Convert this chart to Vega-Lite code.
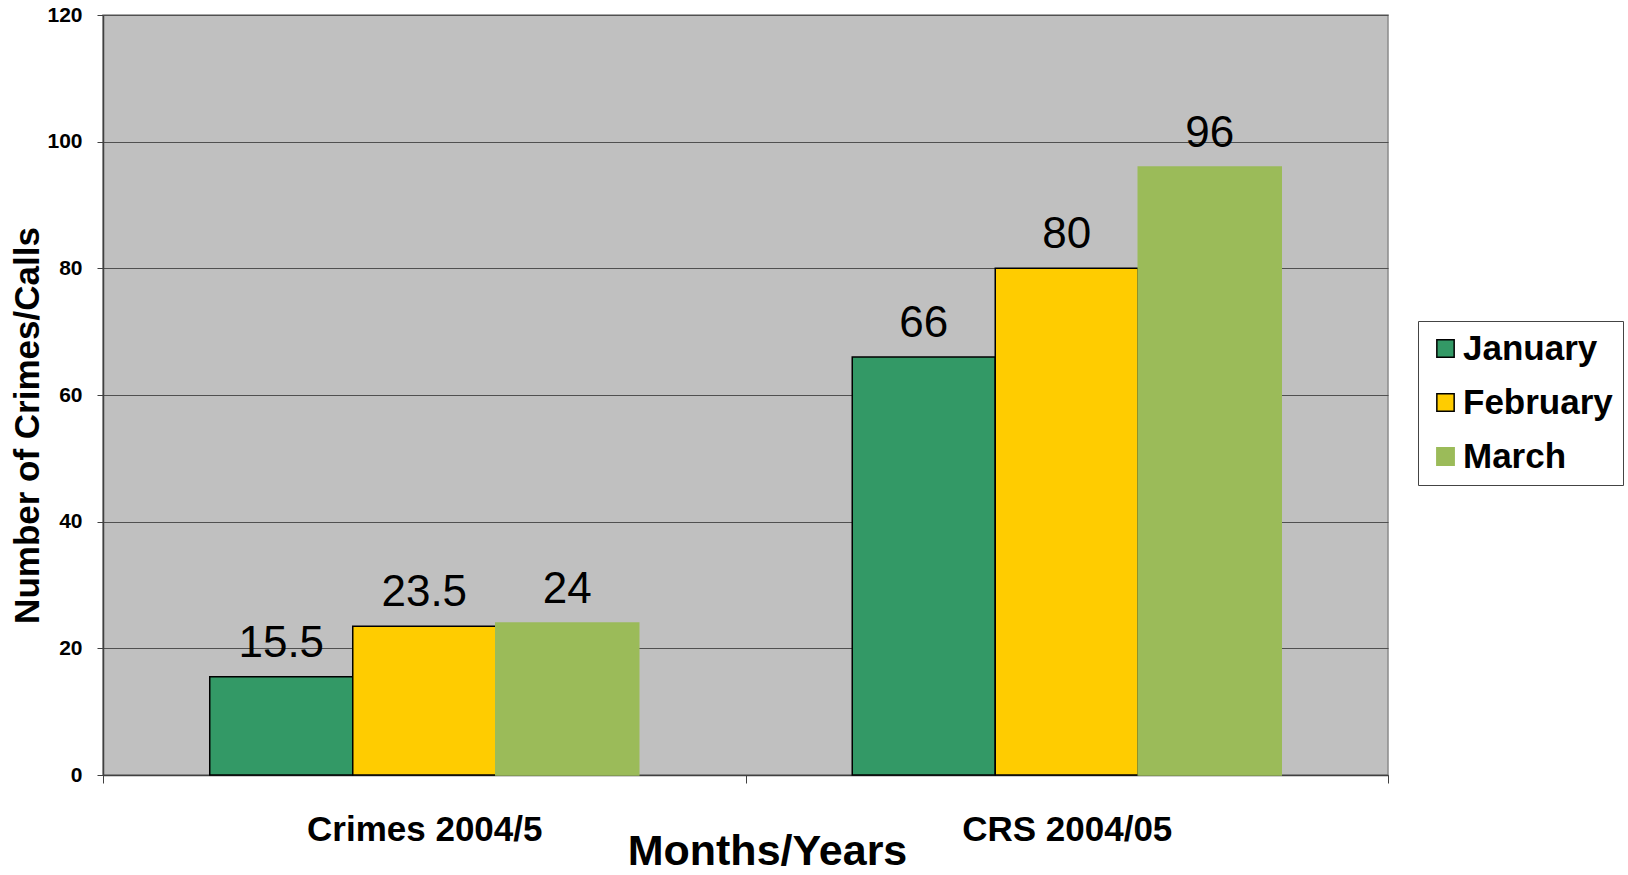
{
  "$schema": "https://vega.github.io/schema/vega-lite/v6.json",
  "autosize": "none",
  "width": 1285,
  "height": 760,
  "padding": {"left": 103, "top": 15, "right": 240, "bottom": 100},
  "background": "white",
  "config": {
    "view": {"fill": "#C0C0C0", "stroke": "#8A8A8A", "strokeWidth": 1.5},
    "font": "Liberation Sans"
  },
  "data": {
    "values": [
      {"group": "Crimes 2004/5", "month": "January", "value": 15.5},
      {"group": "Crimes 2004/5", "month": "February", "value": 23.5},
      {"group": "Crimes 2004/5", "month": "March", "value": 24},
      {"group": "CRS 2004/05", "month": "January", "value": 66},
      {"group": "CRS 2004/05", "month": "February", "value": 80},
      {"group": "CRS 2004/05", "month": "March", "value": 96}
    ]
  },
  "encoding": {
    "x": {
      "field": "group",
      "type": "nominal",
      "sort": ["Crimes 2004/5", "CRS 2004/05"],
      "scale": {"paddingInner": 0, "paddingOuter": 0},
      "axis": {
        "title": "Months/Years",
        "titleFont": "Liberation Sans",
        "titleFontSize": 43,
        "titleFontWeight": "bold",
        "titleColor": "black",
        "titleX": 664,
        "titleY": 89,
        "titleBaseline": "alphabetic",
        "titleAlign": "center",
        "labelFont": "Liberation Sans",
        "labelFontSize": 35,
        "labelFontWeight": "bold",
        "labelColor": "black",
        "labelAngle": 0,
        "labelLimit": 600,
        "labelBaseline": "alphabetic",
        "labelPadding": 57,
        "tickBand": "extent",
        "tickSize": 8,
        "tickColor": "#404040",
        "domainColor": "#404040",
        "domainWidth": 1.5
      }
    },
    "xOffset": {
      "field": "month",
      "type": "nominal",
      "sort": ["January", "February", "March"],
      "scale": {"paddingInner": 0, "paddingOuter": 0.7465}
    },
    "y": {
      "field": "value",
      "type": "quantitative",
      "scale": {"domain": [0, 120], "nice": false},
      "axis": {
        "values": [0, 20, 40, 60, 80, 100, 120],
        "title": "Number of Crimes/Calls",
        "titleFont": "Liberation Sans",
        "titleFontSize": 35,
        "titleFontWeight": "bold",
        "titleColor": "black",
        "titleAngle": -90,
        "titleX": -65,
        "titleY": 410,
        "titleBaseline": "alphabetic",
        "titleAlign": "center",
        "labelFont": "Liberation Sans",
        "labelFontSize": 21,
        "labelFontWeight": "bold",
        "labelColor": "black",
        "labelPadding": 15,
        "tickSize": 6,
        "tickColor": "#404040",
        "domainColor": "#404040",
        "domainWidth": 1.5,
        "grid": true,
        "gridColor": "#505050",
        "gridWidth": 1.2
      }
    }
  },
  "layer": [
    {
      "mark": {"type": "bar", "strokeWidth": 1.5},
      "encoding": {
        "fill": {
          "field": "month",
          "type": "nominal",
          "scale": {"domain": ["January", "February", "March"], "range": ["#339966", "#FFCC00", "#9BBB59"]},
          "legend": {
            "title": null,
            "orient": "none",
            "legendX": 1315,
            "legendY": 306,
            "fillColor": "white",
            "strokeColor": "#444444",
            "padding": 10,
            "rowPadding": 18,
            "symbolType": "square",
            "symbolSize": 300,
            "symbolStrokeWidth": 1.5,
            "labelFont": "Liberation Sans",
            "labelFontSize": 35,
            "labelFontWeight": "bold",
            "labelColor": "black",
            "labelOffset": 0,
            "labelLimit": 300
          }
        },
        "stroke": {
          "field": "month",
          "type": "nominal",
          "scale": {"domain": ["January", "February", "March"], "range": ["#000000", "#000000", "#9BBB59"]},
          "legend": null
        }
      }
    },
    {
      "mark": {"type": "text", "baseline": "alphabetic", "dy": -20, "fontSize": 44, "font": "Liberation Sans", "color": "black"},
      "encoding": {
        "text": {"field": "value", "type": "quantitative"}
      }
    }
  ]
}
